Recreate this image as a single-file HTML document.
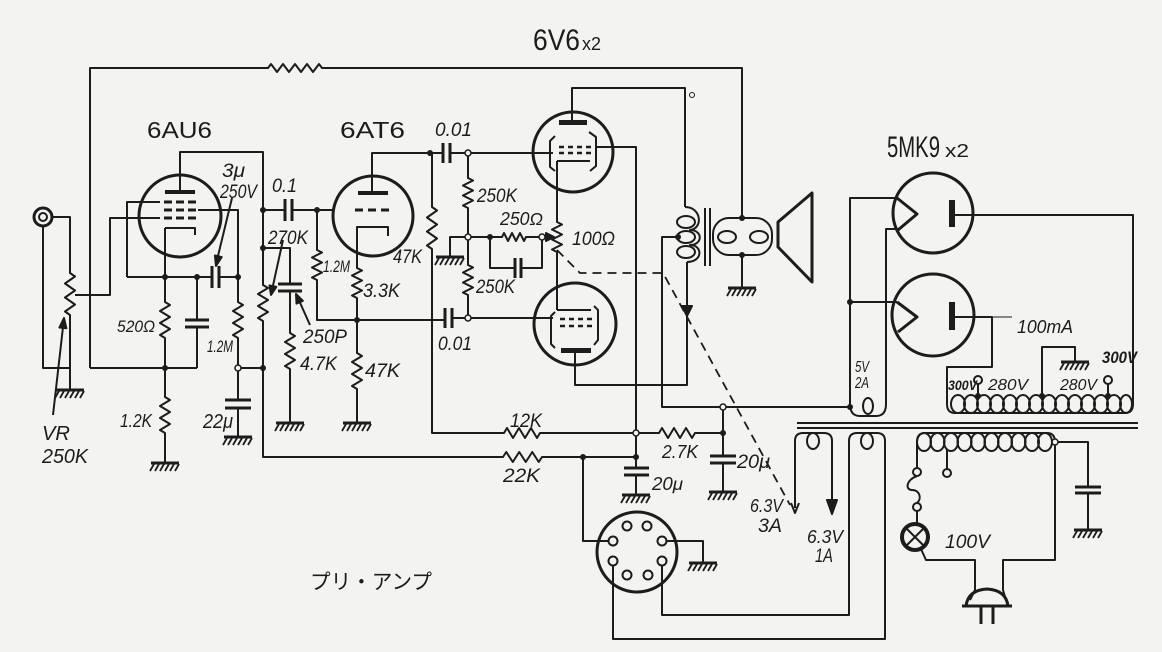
<!DOCTYPE html>
<html><head><meta charset="utf-8">
<style>
html,body{margin:0;padding:0;background:#f3f3f1;}
svg{display:block}
text{font-family:"Liberation Sans","Noto Sans CJK JP",sans-serif;fill:#1c1c1c;stroke:none;}
.i text{font-style:italic}
</style></head><body>
<svg width="1162" height="652" viewBox="0 0 1162 652" xmlns="http://www.w3.org/2000/svg" xmlns:xlink="http://www.w3.org/1999/xlink">
<defs>
<g id="g"><path d="M-14 0H14" stroke-width="3"/><path d="M-11 1L-15 8M-6 1L-10 8M-1 1L-5 8M4 1L0 8M9 1L5 8M14 1L10 8" stroke-width="1.8"/></g>
</defs>
<rect width="1162" height="652" fill="#f3f3f1"/>
<g stroke="#1c1c1c" stroke-width="2" fill="none" stroke-linejoin="round">
<!-- feedback -->
<path d="M90 368V68H268l3 -4l6 8l6 -8l6 8l6 -8l6 8l6 -8l6 8l6 -8l3 4H742V218"/>
<!-- jack / VR -->
<circle cx="43" cy="217" r="9" stroke-width="3"/>
<circle cx="43" cy="217" r="4"/>
<path d="M52 217H70V273l5 3.5l-10 7l10 7l-10 7l10 7l-10 7l5 3.5V390"/>
<path d="M43 226V368H70"/>
<use href="#g" xlink:href="#g" x="70" y="390"/>
<path d="M75 295H110V218H160"/>
<path d="M53 415L63 327"/>
<path d="M64 318L66.4 328.3L59.4 327.5Z" fill="#1c1c1c"/>
<!-- 6AU6 -->
<circle cx="180" cy="216" r="41" stroke-width="3"/>
<rect x="165" y="190" width="30" height="4" fill="#1c1c1c" stroke="none"/>
<path d="M164 202H196M164 210H196M164 218H196" stroke-dasharray="8 4" stroke-width="3"/>
<path d="M165 228H195V235"/>
<path d="M165 228V302l5 3l-10 6l10 6l-10 6l10 6l-10 6l5 3V397l5 3l-10 6l10 6l-10 6l10 6l-10 6l5 3V463"/>
<use href="#g" xlink:href="#g" x="165" y="463"/>
<path d="M127 277V202H160"/>
<path d="M127 277H211M220 277H238"/>
<path d="M212 266V288M219 266V288" stroke-width="3"/>
<path d="M197 277V320M197 327V368M90 368H197"/>
<path d="M185 320H209M185 327H209" stroke-width="3"/>
<path d="M198 210H238V302l5 3l-10 6l10 6l-10 6l10 6l-10 6l5 3V400"/>
<path d="M225 400H251M225 408H251" stroke-width="3"/>
<path d="M238 408V437"/>
<use href="#g" xlink:href="#g" x="238" y="437"/>
<path d="M238 368H263"/>
<path d="M180 190V152H263V285l5 3l-10 6l10 6l-10 6l10 6l-10 6l5 3V457H503l3.25 -5l6.5 10l6.5 -10l6.5 10l6.5 -10l6.5 10l3.25 -5H636"/>
<path d="M232 198L217.5 258"/>
<path d="M216 266L221.7 257.1L214.9 255.5Z" fill="#1c1c1c"/>
<!-- 0.1 cap / 6AT6 -->
<path d="M263 210H285M292 210H333"/>
<path d="M285 199V221M292 199V221" stroke-width="3"/>
<circle cx="373" cy="216" r="40" stroke-width="3"/>
<rect x="358" y="191" width="30" height="4" fill="#1c1c1c" stroke="none"/>
<path d="M355 210H391" stroke-dasharray="8 5" stroke-width="3"/>
<path d="M357 236V227H388V236"/>
<path d="M357 227V268l5 2.5l-10 5l10 5l-10 5l10 5l-10 5l5 2.5V353l5 3l-10 6l10 6l-10 6l10 6l-10 6l5 3V423"/>
<use href="#g" xlink:href="#g" x="357" y="423"/>
<path d="M317 210V250l5 2.5l-10 5l10 5l-10 5l10 5l-10 5l5 2.5V320H445"/>
<path d="M445 308V328M452 308V328" stroke-width="3"/>
<path d="M452 318H553"/>
<path d="M372 191V153H443M450 153H553"/>
<path d="M443 143V163M450 143V163" stroke-width="3"/>
<path d="M263 248H290V284"/>
<path d="M278 284H302M278 291H302" stroke-width="3"/>
<path d="M290 291V333l5 3l-10 6l10 6l-10 6l10 6l-10 6l5 3V423"/>
<use href="#g" xlink:href="#g" x="290" y="423"/>
<path d="M283 240L272.9 286"/>
<path d="M271 295L276.3 286.9L269.5 285.5Z" fill="#1c1c1c"/>
<path d="M310 325L299.7 302"/>
<path d="M296 294L302.9 300.8L296.5 303.6Z" fill="#1c1c1c"/>
<path d="M432 153V207l5 3.5l-10 7l10 7l-10 7l10 7l-10 7l5 3.5V433H504l3 -5l6 10l6 -10l6 10l6 -10l6 10l3 -5H659l3 -5l6 10l6 -10l6 10l6 -10l6 10l3 -5H723"/>
<!-- phase splitter -->
<path d="M468 153V178l5 2.5l-10 5l10 5l-10 5l10 5l-10 5l5 2.5V265l5 2.5l-10 5l10 5l-10 5l10 5l-10 5l5 2.5V318"/>
<path d="M468 237H450V257"/>
<use href="#g" xlink:href="#g" x="450" y="257"/>
<path d="M468 237H502l2 -4l4 8l4 -8l4 8l4 -8l4 8l2 -4H547"/>
<path d="M554 237L546 233L546 241Z" fill="#1c1c1c"/>
<path d="M490 237V268H515M521 268H542V237"/>
<path d="M515 258V278M521 258V278" stroke-width="3"/>
<path d="M557 161V222l5 2.5l-10 5l10 5l-10 5l10 5l-10 5l5 2.5V310"/>
<!-- 6V6 upper -->
<circle cx="573" cy="152" r="40" stroke-width="3"/>
<rect x="559" y="120" width="28" height="5" fill="#1c1c1c" stroke="none"/>
<path d="M559 147H591M559 153H591" stroke-dasharray="5 4" stroke-width="2.5"/>
<path d="M557 161H590"/>
<path d="M555 136L550 141V167L555 171M589 132L596 137V166L590 171"/>
<!-- 6V6 lower -->
<circle cx="575" cy="324" r="41" stroke-width="3"/>
<path d="M557 310H591"/>
<path d="M560 319H592M560 326H592" stroke-dasharray="5 4" stroke-width="2.5"/>
<rect x="561" y="348" width="30" height="5" fill="#1c1c1c" stroke="none"/>
<path d="M555 312L551 316V344L555 348M594 306L598 310V340L594 345"/>
<path d="M575 353V385H687V262"/>
<path d="M572 120V88H685V207"/>
<path d="M596 147H636V468"/>
<circle cx="692" cy="95" r="2.5" stroke-width="1"/>
<!-- B+ & filters -->
<path d="M678 237H662V407H850"/>
<path d="M723 407V456M723 463V492"/>
<path d="M710 456H736M710 463H736" stroke-width="3"/>
<use href="#g" xlink:href="#g" x="723" y="492"/>
<path d="M624 468H649M624 475H649" stroke-width="3"/>
<path d="M636 475V495"/>
<use href="#g" xlink:href="#g" x="636" y="495"/>
<path d="M583 457V541H609"/>
<!-- octal socket -->
<circle cx="637" cy="552" r="40" stroke-width="3"/>
<g fill="#f3f3f1">
<circle cx="627" cy="526" r="4.5"/><circle cx="647" cy="526" r="4.5"/>
<circle cx="613" cy="541" r="4.5"/><circle cx="662" cy="541" r="4.5"/>
<circle cx="613" cy="561" r="4.5"/><circle cx="662" cy="561" r="4.5"/>
<circle cx="627" cy="575" r="4.5"/><circle cx="648" cy="575" r="4.5"/>
</g>
<path d="M667 541H703V563"/>
<use href="#g" xlink:href="#g" x="703" y="563"/>
<path d="M613 566V639H885V441Q885 433 877 433H857Q849 433 849 441V615H662V566"/>
<ellipse cx="867" cy="441" rx="6" ry="8"/>
<path d="M795 508V441Q795 433 803 433H824Q832 433 832 441V503"/>
<ellipse cx="813" cy="441" rx="6" ry="8"/>
<path d="M791 503L795 513L799 503"/>
<path d="M827 500H837L832 514Z" fill="#1c1c1c"/>
<!-- dashed link -->
<path d="M557 250L580 273H663L790 505" stroke-dasharray="9 6" stroke-width="1.8"/>
<!-- output transformer -->
<ellipse cx="686" cy="222" rx="9" ry="6"/>
<ellipse cx="686" cy="237" rx="9" ry="6"/>
<ellipse cx="686" cy="252" rx="9" ry="6"/>
<path d="M685 207C702 207 703 229 690 230C703 230 703 245 690 245C703 245 703 262 687 262"/>
<path d="M705 208V266M710 208V266"/>
<rect x="713" y="218" width="59" height="37" rx="16"/>
<ellipse cx="727" cy="237" rx="9" ry="6"/>
<ellipse cx="759" cy="237" rx="9" ry="6"/>
<path d="M742 255V288"/>
<use href="#g" xlink:href="#g" x="742" y="288"/>
<path d="M778 222L812 193V282L778 247Z" stroke-width="3"/>
<path d="M682 306H692L687 316Z" fill="#1c1c1c"/>
<!-- power transformer core -->
<path d="M797 423H1138M797 428H1138"/>
<!-- rectifiers -->
<circle cx="933" cy="213" r="40" stroke-width="3"/>
<circle cx="933" cy="315" r="41" stroke-width="3"/>
<path d="M897 198L917 214L898 230M897 302L917 317L898 332" stroke-width="3"/>
<rect x="949" y="200" width="6" height="27" fill="#1c1c1c" stroke="none"/>
<rect x="949" y="302" width="6" height="28" fill="#1c1c1c" stroke="none"/>
<path d="M955 215H1133V404Q1133 413 1125 413H955Q947 413 947 404V367H992V317H955"/>
<path d="M897 198H850V404Q850 416 860 416H876Q886 416 886 404V229H898"/>
<path d="M897 302H850"/>
<ellipse cx="868" cy="406" rx="5" ry="8"/>
<g>
<ellipse cx="958" cy="404" rx="7" ry="9"/><ellipse cx="971" cy="404" rx="7" ry="9"/>
<ellipse cx="984" cy="404" rx="7" ry="9"/><ellipse cx="997" cy="404" rx="7" ry="9"/>
<ellipse cx="1010" cy="404" rx="7" ry="9"/><ellipse cx="1023" cy="404" rx="7" ry="9"/>
<ellipse cx="1036" cy="404" rx="7" ry="9"/><ellipse cx="1049" cy="404" rx="7" ry="9"/>
<ellipse cx="1062" cy="404" rx="7" ry="9"/><ellipse cx="1075" cy="404" rx="7" ry="9"/>
<ellipse cx="1088" cy="404" rx="7" ry="9"/><ellipse cx="1101" cy="404" rx="7" ry="9"/>
<ellipse cx="1114" cy="404" rx="7" ry="9"/><ellipse cx="1126" cy="404" rx="6" ry="9"/>
</g>
<path d="M992 317H1012" stroke-width="1"/>
<path d="M978 396V384M1108 396V384"/>
<circle cx="978" cy="380" r="4"/><circle cx="1108" cy="380" r="4"/>
<path d="M1042 396V347H1075V362"/>
<use href="#g" xlink:href="#g" x="1075" y="362"/>
<!-- primary -->
<path d="M917 468V442Q917 433 925 433H1047Q1055 433 1055 442V560H1003V590L1006 600"/>
<g>
<ellipse cx="924" cy="442" rx="7" ry="9"/><ellipse cx="937.5" cy="442" rx="7" ry="9"/>
<ellipse cx="951" cy="442" rx="7" ry="9"/><ellipse cx="964.5" cy="442" rx="7" ry="9"/>
<ellipse cx="978" cy="442" rx="7" ry="9"/><ellipse cx="991.5" cy="442" rx="7" ry="9"/>
<ellipse cx="1005" cy="442" rx="7" ry="9"/><ellipse cx="1018.5" cy="442" rx="7" ry="9"/>
<ellipse cx="1032" cy="442" rx="7" ry="9"/><ellipse cx="1045" cy="442" rx="7" ry="9"/>
</g>
<path d="M947 450V469"/>
<circle cx="947" cy="473" r="4"/>
<circle cx="917" cy="472" r="4"/>
<circle cx="917" cy="507" r="4"/>
<path d="M917 476C906 480 905 490 912 490C920 490 922 499 917 503"/>
<path d="M917 511V524"/>
<circle cx="915" cy="537" r="13" stroke-width="4"/>
<path d="M907 529L923 545M923 529L907 545"/>
<path d="M921 549L926 560H975V590L970 600"/>
<path d="M966 606Q968 590 987 589Q1006 590 1008 606Z" stroke-width="3"/>
<path d="M962 606H1012M981 606V624M993 606V624" stroke-width="3"/>
<path d="M1055 442H1088V487M1088 493V530"/>
<path d="M1075 487H1101M1075 493H1101" stroke-width="3"/>
<use href="#g" xlink:href="#g" x="1088" y="530"/>
</g>
<!-- dots -->
<g fill="#1c1c1c">
<circle cx="165" cy="277" r="3"/><circle cx="197" cy="277" r="3"/><circle cx="238" cy="277" r="3"/>
<circle cx="165" cy="368" r="3"/><circle cx="263" cy="210" r="3"/><circle cx="263" cy="248" r="3"/>
<circle cx="263" cy="368" r="3"/><circle cx="317" cy="210" r="3"/><circle cx="357" cy="320" r="3"/>
<circle cx="430" cy="153" r="3"/><circle cx="490" cy="237" r="3"/><circle cx="583" cy="457" r="3"/>
<circle cx="636" cy="457" r="3"/><circle cx="723" cy="433" r="3"/><circle cx="678" cy="237" r="3"/>
<circle cx="742" cy="218" r="3"/><circle cx="742" cy="255" r="3"/><circle cx="850" cy="302" r="3"/>
<circle cx="850" cy="407" r="3"/><circle cx="978" cy="396" r="3"/><circle cx="1042" cy="396" r="3"/>
<circle cx="1108" cy="396" r="3"/>
</g>
<g fill="#f3f3f1" stroke="#1c1c1c" stroke-width="1.5">
<circle cx="238" cy="368" r="3"/><circle cx="468" cy="153" r="3"/><circle cx="468" cy="237" r="3"/>
<circle cx="542" cy="237" r="3"/><circle cx="468" cy="318" r="3"/><circle cx="636" cy="433" r="3"/>
<circle cx="723" cy="407" r="3"/><circle cx="1055" cy="442" r="3"/>
</g>
<!-- tube labels -->
<text x="533" y="50" font-size="30" textLength="47" lengthAdjust="spacingAndGlyphs">6V6</text>
<text x="582" y="50" font-size="18" textLength="19" lengthAdjust="spacingAndGlyphs">x2</text>
<text x="147" y="138" font-size="23" textLength="65" lengthAdjust="spacingAndGlyphs">6AU6</text>
<text x="340" y="138" font-size="23" textLength="65" lengthAdjust="spacingAndGlyphs">6AT6</text>
<text x="887" y="157" font-size="30" textLength="53" lengthAdjust="spacingAndGlyphs">5MK9</text>
<text x="945" y="157" font-size="18" textLength="24" lengthAdjust="spacingAndGlyphs">x2</text>
<!-- component labels -->
<g class="i" font-size="19">
<text x="435" y="136" textLength="37" lengthAdjust="spacingAndGlyphs">0.01</text>
<text x="272" y="192" textLength="25" lengthAdjust="spacingAndGlyphs">0.1</text>
<text x="222" y="177" textLength="23" lengthAdjust="spacingAndGlyphs">3μ</text>
<text x="220" y="198" textLength="37" lengthAdjust="spacingAndGlyphs">250V</text>
<text x="268" y="244" textLength="40" lengthAdjust="spacingAndGlyphs">270K</text>
<text x="323" y="272" font-size="17" textLength="27" lengthAdjust="spacingAndGlyphs">1.2M</text>
<text x="363" y="297" textLength="37" lengthAdjust="spacingAndGlyphs">3.3K</text>
<text x="393" y="263" textLength="29" lengthAdjust="spacingAndGlyphs">47K</text>
<text x="477" y="202" textLength="40" lengthAdjust="spacingAndGlyphs">250K</text>
<text x="500" y="225" font-size="18" textLength="43" lengthAdjust="spacingAndGlyphs">250Ω</text>
<text x="572" y="245" textLength="43" lengthAdjust="spacingAndGlyphs">100Ω</text>
<text x="476" y="293" textLength="39" lengthAdjust="spacingAndGlyphs">250K</text>
<text x="438" y="350" textLength="34" lengthAdjust="spacingAndGlyphs">0.01</text>
<text x="303" y="343" textLength="44" lengthAdjust="spacingAndGlyphs">250P</text>
<text x="300" y="370" textLength="37" lengthAdjust="spacingAndGlyphs">4.7K</text>
<text x="365" y="377" textLength="35" lengthAdjust="spacingAndGlyphs">47K</text>
<text x="117" y="332" font-size="17" textLength="38" lengthAdjust="spacingAndGlyphs">520Ω</text>
<text x="207" y="352" font-size="17" textLength="26" lengthAdjust="spacingAndGlyphs">1.2M</text>
<text x="120" y="427" font-size="18" textLength="32" lengthAdjust="spacingAndGlyphs">1.2K</text>
<text x="203" y="428" font-size="20" textLength="30" lengthAdjust="spacingAndGlyphs">22μ</text>
<text x="42" y="440" font-size="20" textLength="28" lengthAdjust="spacingAndGlyphs">VR</text>
<text x="42" y="463" font-size="20" textLength="46" lengthAdjust="spacingAndGlyphs">250K</text>
<text x="510" y="427" textLength="32" lengthAdjust="spacingAndGlyphs">12K</text>
<text x="503" y="482" textLength="37" lengthAdjust="spacingAndGlyphs">22K</text>
<text x="662" y="458" font-size="18" textLength="36" lengthAdjust="spacingAndGlyphs">2.7K</text>
<text x="737" y="468" textLength="33" lengthAdjust="spacingAndGlyphs">20μ</text>
<text x="652" y="490" font-size="18" textLength="31" lengthAdjust="spacingAndGlyphs">20μ</text>
<text x="750" y="512" font-size="18" textLength="33" lengthAdjust="spacingAndGlyphs">6.3V</text>
<text x="758" y="532" textLength="24" lengthAdjust="spacingAndGlyphs">3A</text>
<text x="807" y="543" font-size="18" textLength="36" lengthAdjust="spacingAndGlyphs">6.3V</text>
<text x="815" y="562" textLength="18" lengthAdjust="spacingAndGlyphs">1A</text>
<text x="855" y="372" font-size="16" textLength="14" lengthAdjust="spacingAndGlyphs">5V</text>
<text x="855" y="388" font-size="16" textLength="14" lengthAdjust="spacingAndGlyphs">2A</text>
<text x="1017" y="333" font-size="18" textLength="56" lengthAdjust="spacingAndGlyphs">100mA</text>
<text x="1102" y="363" font-size="17" font-weight="bold" textLength="35" lengthAdjust="spacingAndGlyphs">300V</text>
<text x="948" y="390" font-size="14" font-weight="bold" textLength="29" lengthAdjust="spacingAndGlyphs">300V</text>
<text x="988" y="390" font-size="16" textLength="40" lengthAdjust="spacingAndGlyphs">280V</text>
<text x="1060" y="390" font-size="16" textLength="37" lengthAdjust="spacingAndGlyphs">280V</text>
<text x="945" y="548" textLength="45" lengthAdjust="spacingAndGlyphs">100V</text>
</g>
<text x="310" y="589" font-size="21" textLength="122" lengthAdjust="spacingAndGlyphs">プリ・アンプ</text>
</svg>
</body></html>
